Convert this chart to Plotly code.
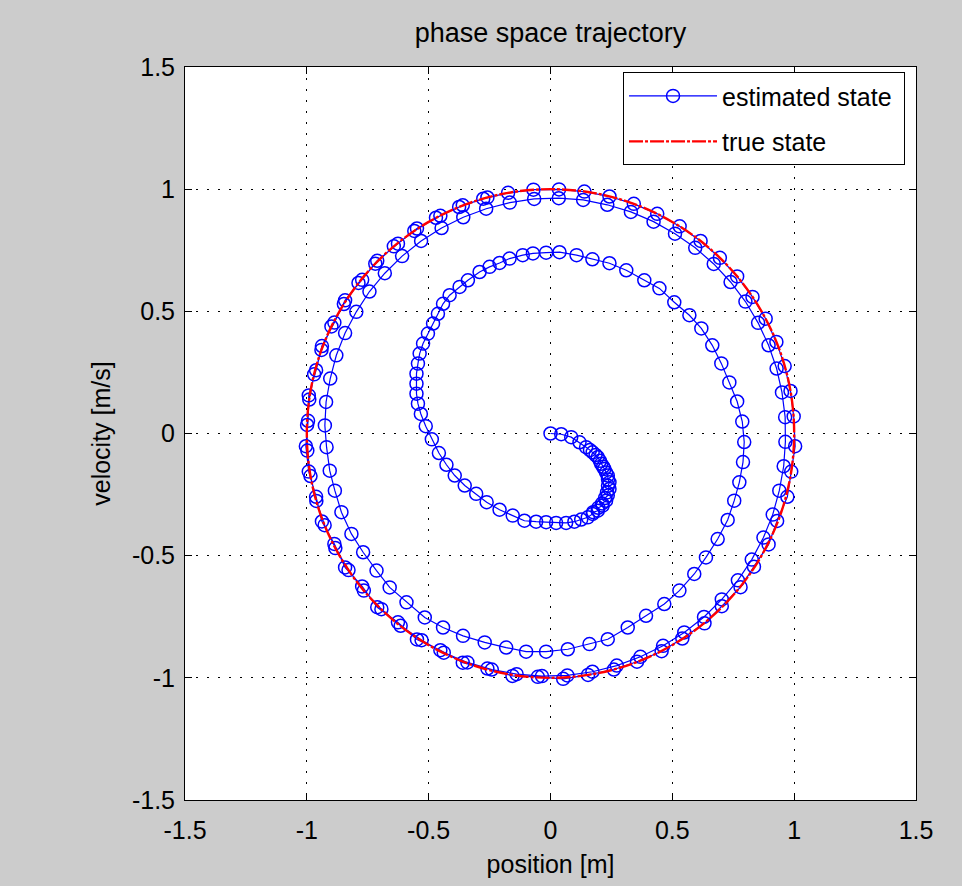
import plotly.graph_objects as go

# ---------------- data ----------------
# estimated state, in time order, split into segments (x, y) pairs
est_hook = [
    [0.0, 0.0], [0.044, -0.003], [0.085, -0.015], [0.119, -0.036], [0.146, -0.056],
    [0.162, -0.068], [0.173, -0.077], [0.185, -0.088], [0.194, -0.097], [0.203, -0.112],
    [0.208, -0.124], [0.216, -0.136], [0.221, -0.145], [0.228, -0.160], [0.235, -0.172],
    [0.236, -0.188], [0.242, -0.200], [0.236, -0.214], [0.242, -0.227], [0.232, -0.241],
    [0.235, -0.254], [0.224, -0.264], [0.228, -0.275], [0.212, -0.286], [0.214, -0.295],
    [0.196, -0.304], [0.194, -0.316], [0.175, -0.322], [0.173, -0.329], [0.153, -0.343],
    [0.126, -0.352], [0.098, -0.361], [0.064, -0.366], [0.023, -0.366], [-0.018, -0.363],
    [-0.059, -0.361],
]
est_inner = [
    [-0.107, -0.357], [-0.155, -0.336], [-0.209, -0.312], [-0.262, -0.281], [-0.305, -0.247],
    [-0.352, -0.213], [-0.393, -0.172], [-0.427, -0.128], [-0.458, -0.080], [-0.487, -0.024],
    [-0.512, 0.030], [-0.532, 0.080], [-0.544, 0.122], [-0.550, 0.163], [-0.550, 0.204],
    [-0.550, 0.245], [-0.544, 0.286], [-0.537, 0.327], [-0.523, 0.368], [-0.503, 0.409],
    [-0.482, 0.450], [-0.462, 0.490], [-0.441, 0.531], [-0.414, 0.566], [-0.373, 0.600],
    [-0.339, 0.627], [-0.291, 0.661], [-0.250, 0.682], [-0.209, 0.698], [-0.168, 0.716],
    [-0.114, 0.730], [-0.072, 0.737], [-0.018, 0.740],
]
est_middle = [
    [0.037, 0.742], [0.107, 0.730], [0.172, 0.713], [0.242, 0.697], [0.311, 0.668],
    [0.385, 0.627], [0.447, 0.594], [0.508, 0.537], [0.570, 0.484], [0.619, 0.430],
    [0.664, 0.361], [0.701, 0.287], [0.734, 0.209], [0.766, 0.131], [0.787, 0.049],
    [0.795, -0.035], [0.790, -0.117], [0.775, -0.200], [0.754, -0.275], [0.727, -0.354],
    [0.686, -0.432], [0.638, -0.507], [0.590, -0.575], [0.529, -0.643], [0.467, -0.698],
    [0.392, -0.746], [0.317, -0.794], [0.235, -0.842], [0.160, -0.862], [0.071, -0.883],
    [-0.018, -0.893], [-0.100, -0.893], [-0.182, -0.876], [-0.270, -0.855], [-0.359, -0.828],
    [-0.441, -0.794], [-0.516, -0.753], [-0.591, -0.691], [-0.660, -0.630], [-0.714, -0.561],
    [-0.769, -0.486], [-0.817, -0.411], [-0.858, -0.322], [-0.885, -0.234], [-0.906, -0.152],
    [-0.919, -0.056], [-0.926, 0.033],
]
est_ring3 = [
    [-0.921, 0.129], [-0.904, 0.225], [-0.879, 0.320], [-0.843, 0.411], [-0.797, 0.498],
    [-0.743, 0.581], [-0.680, 0.656], [-0.609, 0.726], [-0.531, 0.788], [-0.447, 0.841],
    [-0.358, 0.885], [-0.264, 0.920], [-0.167, 0.945], [-0.067, 0.960], [0.034, 0.963],
    [0.134, 0.956], [0.233, 0.936], [0.330, 0.907], [0.423, 0.867], [0.511, 0.818],
    [0.594, 0.760], [0.670, 0.694], [0.739, 0.620], [0.800, 0.540], [0.852, 0.453],
    [0.895, 0.361], [0.928, 0.266], [0.950, 0.168], [0.963, 0.067], [0.964, -0.034],
    [0.957, -0.134], [0.939, -0.234], [0.912, -0.332], [0.874, -0.426], [0.826, -0.516],
    [0.769, -0.601], [0.703, -0.679], [0.630, -0.751], [0.549, -0.814], [0.462, -0.869],
    [0.369, -0.914], [0.272, -0.950], [0.172, -0.975], [0.069, -0.990], [-0.035, -0.993],
    [-0.139, -0.985], [-0.241, -0.966], [-0.341, -0.937], [-0.438, -0.897], [-0.529, -0.846],
    [-0.615, -0.787], [-0.694, -0.719], [-0.766, -0.643], [-0.829, -0.559], [-0.883, -0.469],
    [-0.927, -0.375], [-0.961, -0.276], [-0.985, -0.174], [-0.998, -0.070],
]
est_ring4 = [
    [-0.999, 0.035], [-0.990, 0.139], [-0.970, 0.242], [-0.940, 0.342], [-0.899, 0.438],
    [-0.848, 0.530], [-0.788, 0.616], [-0.719, 0.695], [-0.643, 0.766], [-0.559, 0.829],
    [-0.470, 0.883], [-0.375, 0.927], [-0.276, 0.961], [-0.174, 0.985], [-0.070, 0.998],
    [0.035, 0.999], [0.139, 0.990], [0.242, 0.970], [0.342, 0.940], [0.438, 0.899],
    [0.530, 0.848], [0.616, 0.788], [0.695, 0.719], [0.766, 0.643], [0.829, 0.559],
    [0.883, 0.470], [0.927, 0.375], [0.961, 0.276], [0.985, 0.174], [0.998, 0.070],
]
est_ring5 = [
    [1.004, -0.052], [0.988, -0.156], [0.972, -0.259], [0.930, -0.358], [0.895, -0.454],
    [0.835, -0.545], [0.780, -0.629], [0.703, -0.707], [0.632, -0.777], [0.541, -0.839],
    [0.456, -0.891], [0.355, -0.934], [0.260, -0.966], [0.154, -0.988], [0.052, -1.004],
    [-0.052, -0.996], [-0.156, -0.992], [-0.259, -0.962], [-0.360, -0.938], [-0.452, -0.887],
    [-0.548, -0.843], [-0.626, -0.773], [-0.711, -0.711], [-0.773, -0.626], [-0.843, -0.548],
    [-0.887, -0.452], [-0.938, -0.360], [-0.962, -0.259], [-0.992, -0.156], [-1.004, -0.052],
    [-0.995, 0.052], [-0.992, 0.156], [-0.962, 0.259], [-0.938, 0.358], [-0.887, 0.454],
    [-0.843, 0.545], [-0.773, 0.629], [-0.711, 0.707], [-0.626, 0.777], [-0.548, 0.839],
    [-0.452, 0.891], [-0.360, 0.934], [-0.259, 0.966],
]

# true state (unit circle, read at 10 degree steps)
true_x = [1, 0.985, 0.940, 0.866, 0.766, 0.643, 0.5, 0.342, 0.174, 0, -0.174, -0.342, -0.5,
          -0.643, -0.766, -0.866, -0.940, -0.985, -1, -0.985, -0.940, -0.866, -0.766, -0.643,
          -0.5, -0.342, -0.174, 0, 0.174, 0.342, 0.5, 0.643, 0.766, 0.866, 0.940, 0.985, 1]
true_y = [0, 0.174, 0.342, 0.5, 0.643, 0.766, 0.866, 0.940, 0.985, 1, 0.985, 0.940, 0.866,
          0.766, 0.643, 0.5, 0.342, 0.174, 0, -0.174, -0.342, -0.5, -0.643, -0.766, -0.866,
          -0.940, -0.985, -1, -0.985, -0.940, -0.866, -0.766, -0.643, -0.5, -0.342, -0.174, 0]

tick_vals = [-1.5, -1, -0.5, 0, 0.5, 1, 1.5]
tick_text = ["-1.5", "-1", "-0.5", "0", "0.5", "1", "1.5"]

title_text = "phase space trajectory"
x_label = "position [m]"
y_label = "velocity [m/s]"
est_name = "estimated state"
true_name = "true state"

# ---------------- figure ----------------
est_all = est_hook + est_inner + est_middle + est_ring3 + est_ring4 + est_ring5
est_x = [p[0] for p in est_all]
est_y = [p[1] for p in est_all]

FONT = "Liberation Sans, Arial, sans-serif"

fig = go.Figure()
fig.add_trace(go.Scatter(
    x=est_x, y=est_y, mode="lines+markers", name=est_name + " ", legendgroup="a",
    line=dict(color="#0000ff", width=1.2),
    marker=dict(symbol="circle-open", size=13, color="#0000ff", line=dict(width=1.5, color="#0000ff")),
))
fig.add_trace(go.Scatter(
    x=true_x, y=true_y, mode="lines", name=true_name, legendgroup="b",
    line=dict(color="#ff0000", width=2.4, dash="14px,2px,3px,2px", shape="spline"),
))

axis_common = dict(
    range=[-1.5, 1.5], tickmode="array", tickvals=tick_vals, ticktext=tick_text,
    showgrid=True, gridcolor="black", gridwidth=1, griddash="2px,9px",
    zeroline=False, showline=True, linecolor="black", linewidth=1, mirror="ticks",
    ticks="inside", ticklen=7, tickcolor="black",
    tickfont=dict(family=FONT, size=25, color="black"),
)

fig.update_layout(
    width=962, height=886,
    paper_bgcolor="#cccccc", plot_bgcolor="white",
    margin=dict(l=185, r=46, t=67, b=86),
    title=dict(text=title_text, x=0.5, xref="paper", y=1 - 33 / 886, yref="container",
               xanchor="center", yanchor="middle",
               font=dict(family=FONT, size=27, color="black")),
    xaxis=dict(axis_common, title=dict(text=x_label, standoff=12,
               font=dict(family=FONT, size=25, color="black")), ticklabelstandoff=8),
    yaxis=dict(axis_common, title=dict(text=y_label, standoff=14,
               font=dict(family=FONT, size=25, color="black")), ticklabelstandoff=4),
    legend=dict(x=0.985, y=0.993, xanchor="right", yanchor="top",
                bgcolor="white", bordercolor="black", borderwidth=1,
                font=dict(family=FONT, size=25, color="black"),
                itemwidth=88, tracegroupgap=10),
    showlegend=True,
)

fig.write_html("out.html")
